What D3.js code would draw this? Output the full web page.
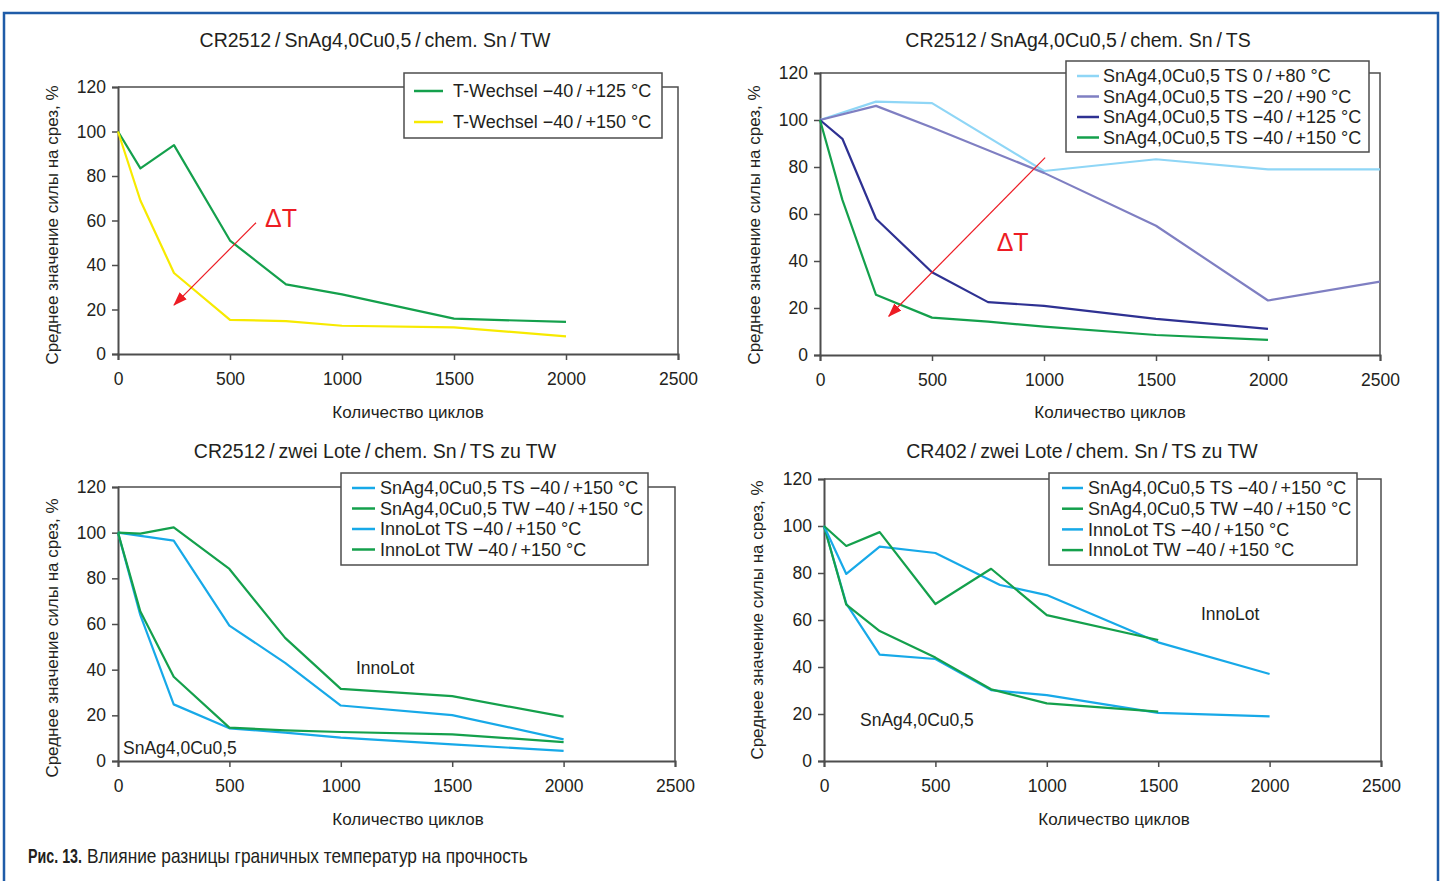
<!DOCTYPE html>
<html>
<head>
<meta charset="utf-8">
<script src="https://cdn.jsdelivr.net/npm/d3@7/dist/d3.min.js"></script>
<style>
  body { margin: 0; background: #fff; }
  svg { display: block; font-family: "Liberation Sans", Arial, sans-serif; }
</style>
</head>
<body>
<script>
// ---- shared ticks ----
const xTicks = [0, 500, 1000, 1500, 2000, 2500];
const yTicks = [0, 20, 40, 60, 80, 100, 120];

const yTitle = "Среднее значение силы на срез, %";
const xTitle = "Количество циклов";
const sl = "\u2009/\u2009";

// ---- panel 1: CR2512 / SnAg / TW ----
const p1Names = ["T-Wechsel \u221240" + sl + "+125 °C", "T-Wechsel \u221240" + sl + "+150 °C"];
const p1Cycles = [0, 100, 250, 500, 750, 1000, 1500, 2000];
const p1Tw125 = [100, 83.4, 93.9, 51, 31.3, 26.8, 15.9, 14.4];
const p1Tw150 = [100, 69, 36.4, 15.3, 14.8, 12.7, 12, 7.9];

// ---- panel 2: CR2512 / SnAg / TS ----
const p2Names = [
  "SnAg4,0Cu0,5 TS 0" + sl + "+80 °C",
  "SnAg4,0Cu0,5 TS \u221220" + sl + "+90 °C",
  "SnAg4,0Cu0,5 TS \u221240" + sl + "+125 °C",
  "SnAg4,0Cu0,5 TS \u221240" + sl + "+150 °C"
];
const p2CyclesA = [0, 250, 500, 1000, 1500, 2000, 2500];
const p2Ts80 = [100, 107.8, 107.2, 78.3, 83.3, 79, 79];
const p2Ts90 = [100, 106, 96.8, 77.5, 55, 23.2, 31.2];
const p2CyclesB = [0, 100, 250, 500, 750, 1000, 1500, 2000];
const p2Ts125 = [100, 92, 58, 35.2, 22.5, 20.9, 15.4, 11.1];
const p2Ts150 = [100, 66, 25.6, 15.9, 14.2, 12.1, 8.5, 6.4];

// ---- panel 3: CR2512 / two solders ----
const p34Names = [
  "SnAg4,0Cu0,5 TS \u221240" + sl + "+150 °C",
  "SnAg4,0Cu0,5 TW \u221240" + sl + "+150 °C",
  "InnoLot TS \u221240" + sl + "+150 °C",
  "InnoLot TW \u221240" + sl + "+150 °C"
];
const p3Cycles = [0, 100, 250, 500, 750, 1000, 1500, 2000];
const p3SnTs = [100, 64, 24.8, 14.3, 12.4, 10.2, 7.3, 4.4];
const p3SnTw = [100, 65.6, 36.9, 14.6, 13.4, 12.7, 11.7, 8.3];
const p3InnoTsCycles = [0, 250, 500, 750, 1000, 1500, 2000];
const p3InnoTs = [100, 96.5, 59.3, 43, 24.3, 20.1, 9.5];
const p3InnoTw = [100, 99.6, 102.3, 84.1, 53.9, 31.6, 28.4, 19.4];

// ---- panel 4: CR402 / two solders ----
const p4SnTsCycles = [0, 100, 250, 500, 750, 1000, 1500, 2000];
const p4SnTs = [100, 67, 45.3, 43.4, 30.2, 28, 20.5, 19];
const p4SnTwCycles = [0, 100, 250, 500, 750, 1000, 1500];
const p4SnTw = [100, 66.5, 55.3, 44, 30.5, 24.5, 21];
const p4InnoTsCycles = [0, 100, 250, 500, 790, 1000, 1500, 2000];
const p4InnoTs = [100, 79.6, 91.2, 88.5, 74.9, 70.6, 50.5, 37];
const p4InnoTwCycles = [0, 100, 250, 500, 750, 1000, 1500];
const p4InnoTw = [100, 91.5, 97.4, 66.8, 81.8, 62.1, 51.5];

const green = "#14a04c", yellow = "#f7ea00", sky = "#8fd6f6", lilac = "#7f7fc2",
      navy = "#2e3192", cyan = "#17a9e8", red = "#ed1c24", ink = "#231f20", axisCol = "#4d4d4d";

const W = 1446, H = 881;
const svg = d3.select("body").append("svg").attr("width", W).attr("height", H);

// outer blue frame
svg.append("path")
  .attr("d", `M4,${H}V13H1438V${H}`)
  .attr("fill", "none").attr("stroke", "#1f5ca8").attr("stroke-width", 2.5);

svg.append("defs").append("marker")
  .attr("id", "arr").attr("markerUnits", "userSpaceOnUse")
  .attr("viewBox", "0 0 14 10").attr("refX", 13).attr("refY", 5)
  .attr("markerWidth", 14).attr("markerHeight", 10).attr("orient", "auto")
  .append("path").attr("d", "M0,0L14,5L0,10Z").attr("fill", red);

function drawPanel(p) {
  const x = d3.scaleLinear().domain([0, 2500]).range([p.left, p.right]);
  const y = d3.scaleLinear().domain([0, 120]).range([p.bottom, p.top]);
  const g = svg.append("g");

  g.append("path")
    .attr("d", `M${p.left},${p.top}H${p.right}V${p.bottom}`)
    .attr("fill", "none").attr("stroke", axisCol).attr("stroke-width", 1.5);

  const ax = g.append("g").attr("transform", `translate(0,${p.bottom})`)
    .call(d3.axisBottom(x).tickValues(xTicks).tickSize(6).tickPadding(9).tickFormat(d3.format("d")));
  const ay = g.append("g").attr("transform", `translate(${p.left},0)`)
    .call(d3.axisLeft(y).tickValues(yTicks).tickSize(6).tickPadding(6));
  [ax, ay].forEach(a => {
    a.select(".domain").attr("stroke", axisCol).attr("stroke-width", 2);
    a.selectAll(".tick line").attr("stroke", axisCol).attr("stroke-width", 1.5);
    a.selectAll("text").attr("font-size", 17.5).attr("fill", ink).attr("font-family", null);
  });
  ax.selectAll("text").attr("dy", "0.9em");

  const line = d3.line().x(d => x(d[0])).y(d => y(d[1]));
  p.series.forEach(s => {
    g.append("path").datum(d3.zip(s.x, s.y))
      .attr("d", line).attr("fill", "none")
      .attr("stroke", s.color).attr("stroke-width", 2.2)
      .attr("stroke-linejoin", "round");
  });

  if (p.arrow) {
    g.append("line")
      .attr("x1", x(p.arrow[0])).attr("y1", y(p.arrow[1]))
      .attr("x2", x(p.arrow[2])).attr("y2", y(p.arrow[3]))
      .attr("stroke", red).attr("stroke-width", 1.2).attr("marker-end", "url(#arr)");
    g.append("text").attr("x", x(p.arrow[4])).attr("y", y(p.arrow[5]))
      .attr("text-anchor", "middle").attr("dy", "0.35em")
      .attr("font-size", 25).attr("fill", red).text("\u0394T");
  }

  (p.notes || []).forEach(n => {
    g.append("text").attr("x", n.x).attr("y", n.y).attr("dy", "0.35em")
      .attr("text-anchor", n.anchor).attr("font-size", 17.5).attr("fill", ink).text(n.text);
  });

  // titles
  g.append("text").attr("x", p.titleX).attr("y", p.titleY).attr("dy", "0.35em")
    .attr("text-anchor", "middle").attr("font-size", 19.5).attr("fill", ink).text(p.title);
  g.append("text").attr("x", p.xtX).attr("y", p.xtY).attr("dy", "0.35em")
    .attr("text-anchor", "middle").attr("font-size", 17).attr("fill", ink).text(xTitle);
  g.append("text").attr("transform", `translate(${p.ytX},${p.ytY}) rotate(-90)`).attr("dy", "0.35em")
    .attr("text-anchor", "middle").attr("font-size", 17).attr("fill", ink).text(yTitle);

  // legend
  const L = p.legend;
  g.append("rect").attr("x", L.x).attr("y", L.y).attr("width", L.w).attr("height", L.h)
    .attr("fill", "#fff").attr("stroke", axisCol).attr("stroke-width", 1.5);
  p.series.forEach((s, i) => {
    const ry = L.row0 + i * L.step;
    g.append("line").attr("x1", L.lx0).attr("x2", L.lx1).attr("y1", ry).attr("y2", ry)
      .attr("stroke", s.color).attr("stroke-width", 2.5);
    g.append("text").attr("x", L.tx).attr("y", ry).attr("dy", "0.35em")
      .attr("font-size", 18).attr("fill", ink).text(s.name);
  });
}

drawPanel({
  left: 118, right: 678, top: 87, bottom: 354,
  title: "CR2512" + sl + "SnAg4,0Cu0,5" + sl + "chem. Sn" + sl + "TW", titleX: 375, titleY: 40,
  xtX: 408, xtY: 412, ytX: 52, ytY: 225,
  series: [
    { name: p1Names[0], x: p1Cycles, y: p1Tw125, color: green },
    { name: p1Names[1], x: p1Cycles, y: p1Tw150, color: yellow }
  ],
  arrow: [616, 59, 250, 22, 728, 61],
  legend: { x: 404, y: 73, w: 258, h: 65, row0: 91, step: 31, lx0: 414, lx1: 443, tx: 453 }
});

drawPanel({
  left: 820, right: 1380, top: 73, bottom: 355,
  title: "CR2512" + sl + "SnAg4,0Cu0,5" + sl + "chem. Sn" + sl + "TS", titleX: 1078, titleY: 40,
  xtX: 1110, xtY: 412, ytX: 754, ytY: 225,
  series: [
    { name: p2Names[0], x: p2CyclesA, y: p2Ts80, color: sky },
    { name: p2Names[1], x: p2CyclesA, y: p2Ts90, color: lilac },
    { name: p2Names[2], x: p2CyclesB, y: p2Ts125, color: navy },
    { name: p2Names[3], x: p2CyclesB, y: p2Ts150, color: green }
  ],
  arrow: [1005, 84, 307, 16.5, 860, 48],
  legend: { x: 1066, y: 61, w: 303, h: 91, row0: 76, step: 20.5, lx0: 1077, lx1: 1099, tx: 1103 }
});

drawPanel({
  left: 118, right: 675, top: 487, bottom: 761,
  title: "CR2512" + sl + "zwei Lote" + sl + "chem. Sn" + sl + "TS zu TW", titleX: 375, titleY: 451,
  xtX: 408, xtY: 819, ytX: 52, ytY: 638,
  series: [
    { name: p34Names[0], x: p3Cycles, y: p3SnTs, color: cyan },
    { name: p34Names[1], x: p3Cycles, y: p3SnTw, color: green },
    { name: p34Names[2], x: p3InnoTsCycles, y: p3InnoTs, color: cyan },
    { name: p34Names[3], x: p3Cycles, y: p3InnoTw, color: green }
  ],
  notes: [
    { text: "InnoLot", x: 356, y: 668, anchor: "start" },
    { text: "SnAg4,0Cu0,5", x: 123, y: 748, anchor: "start" }
  ],
  legend: { x: 341, y: 473, w: 307, h: 92, row0: 488, step: 20.5, lx0: 352, lx1: 375, tx: 380 }
});

drawPanel({
  left: 824, right: 1381, top: 479, bottom: 761,
  title: "CR402" + sl + "zwei Lote" + sl + "chem. Sn" + sl + "TS zu TW", titleX: 1082, titleY: 451,
  xtX: 1114, xtY: 819, ytX: 757, ytY: 620,
  series: [
    { name: p34Names[0], x: p4SnTsCycles, y: p4SnTs, color: cyan },
    { name: p34Names[1], x: p4SnTwCycles, y: p4SnTw, color: green },
    { name: p34Names[2], x: p4InnoTsCycles, y: p4InnoTs, color: cyan },
    { name: p34Names[3], x: p4InnoTwCycles, y: p4InnoTw, color: green }
  ],
  notes: [
    { text: "InnoLot", x: 1201, y: 614, anchor: "start" },
    { text: "SnAg4,0Cu0,5", x: 860, y: 720, anchor: "start" }
  ],
  legend: { x: 1049, y: 473, w: 308, h: 92, row0: 488, step: 20.7, lx0: 1062, lx1: 1083, tx: 1088 }
});

// caption: bold figure number, then the caption text, squeezed horizontally
function caption(str, x0, target, weight) {
  const t = svg.append("text").attr("font-size", 20).attr("font-weight", weight)
    .attr("fill", ink).text(str);
  const k = target / t.node().getComputedTextLength();
  t.attr("transform", `translate(${x0},863) scale(${k},1)`);
}
caption("Рис. 13.", 28, 54, "bold");
caption("Влияние разницы граничных температур на прочность", 87, 441, "normal");
</script>
</body>
</html>
